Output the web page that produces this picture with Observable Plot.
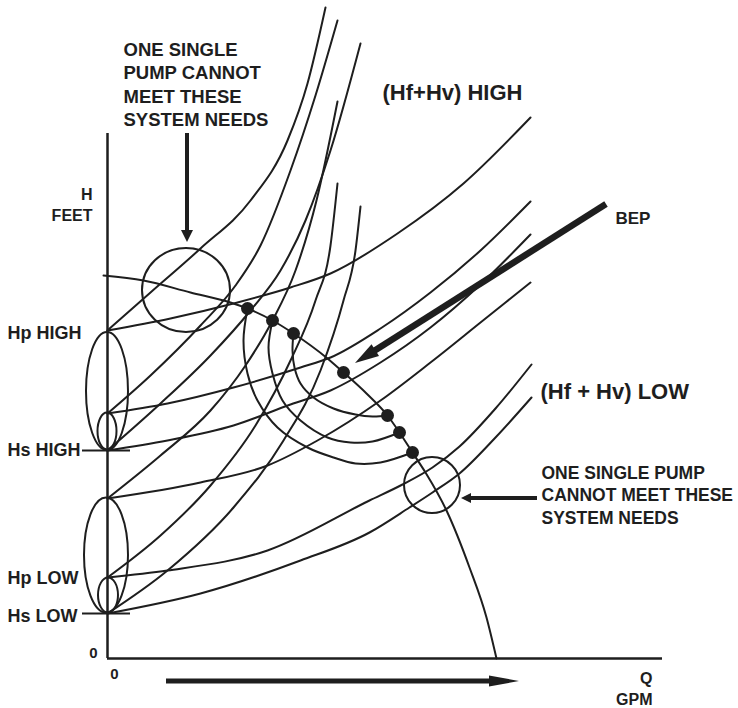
<!DOCTYPE html>
<html><head><meta charset="utf-8">
<script src="https://cdn.jsdelivr.net/npm/d3@7"></script>
<script src="https://cdn.jsdelivr.net/npm/@observablehq/plot@0.6"></script>
<style>
html,body{margin:0;padding:0;background:#fff;}
#chart svg{display:block;}
</style></head><body><div id="chart"></div>
<script>
// Q (flow) and H (head) in arbitrary units, origin at the axes' corner.
const staticTickHeads = [208, 45];

const pumpCurve = [[-4,383],[36,378],[83,366],[123,356],[140,350],[165,338],[186,325],[220,300],[236,286],[259,265],[280,243],[292,226],[305,206],[318,186],[339,148],[362,91],[379,41],[389,0]];
const operatingPoints = [[140,350],[165,338],[186,325],[236,286],[280,243],[292,226],[305,206]];

const arcOuter  = [[140,350],[136,318],[140,285],[150,258],[170,231],[200,211],[226,201],[248,195],[273,196],[305,206]];
const arcMiddle = [[165,338],[161,311],[165,285],[175,258],[193,238],[220,221],[243,216],[265,217],[292,226]];
const arcInner  = [[186,325],[185,308],[187,291],[193,275],[206,261],[226,250],[248,244],[265,242],[280,243]];

const sysFlat1 = [[0,328],[63,340],[126,355],[183,371],[223,385],[290,425],[356,475],[423,541]];
const sysFlat2 = [[0,245],[60,255],[126,271],[193,291],[223,301],[273,330],[323,366],[373,408],[423,457]];
const sysFlat3 = [[0,208],[60,218],[126,233],[183,254],[223,268],[273,296],[323,331],[373,374],[423,424]];
const sysFlat4 = [[0,160],[93,176],[160,193],[210,218],[273,258],[323,296],[373,336],[423,376]];
const sysFlat5 = [[0,81],[60,88],[160,108],[262,158],[295,174],[325,191],[352,212],[388,250],[424,294]];
const sysFlat6 = [[0,45],[93,65],[193,98],[262,126],[302,151],[325,166],[352,185],[388,221],[424,261]];

const sysSteep1 = [[0,328],[43,366],[93,410],[143,458],[180,518],[200,575],[218,651]];
const sysSteep2 = [[0,245],[43,283],[93,333],[128,373],[153,413],[183,488],[208,563],[230,638]];
const sysSteep3 = [[0,208],[53,255],[103,303],[143,348],[173,388],[198,438],[223,508],[253,615]];
const sysSteep4 = [[0,160],[53,203],[103,248],[138,293],[165,338],[188,388],[209,458],[230,557]];
const sysSteep5 = [[0,81],[53,123],[103,173],[148,233],[183,298],[208,358],[223,413],[230,475]];
const sysSteep6 = [[0,45],[60,88],[126,151],[176,218],[213,288],[236,358],[248,408],[253,452]];

// ellipses: centre (q,h) and half-axes (rq,rh)
const rangeEllipses = [
  {q: 0, h: 267, rq: 21, rh: 59}, {q: 0, h: 227, rq: 9.5, rh: 18.5},
  {q: -1, h: 103, rq: 22, rh: 57.5}, {q: 1, h: 63, rq: 10, rh: 17.5}
];
const problemCircles = [{q: 79, h: 368, rq: 44, rh: 42}, {q: 325, h: 173, rq: 28, rh: 28}];

const arrows = [
  {id: "top", q1: 80, h1: 525, q2: 80, h2: 416},
  {id: "right", q1: 430, h1: 160, q2: 354, h2: 160},
  {id: "bep", q1: 499, h1: 454, q2: 248, h2: 295},
  {id: "flow", q1: 59, h1: -23, q2: 412, h2: -23}
];

const sideLabels = ["Hp HIGH", "Hs HIGH", "Hp LOW", "Hs LOW"];
const sideLabelH = [325, 208, 80, 42];
const noteTop = "ONE SINGLE\nPUMP CANNOT\nMEET THESE\nSYSTEM NEEDS";
const noteRight = "ONE SINGLE PUMP\nCANNOT MEET THESE\nSYSTEM NEEDS";

const ink = "#1e1e1e";
const font = "'Liberation Sans', Arial, Helvetica, sans-serif";

const toRows = (list) => list.flatMap(([id, pts]) => pts.map(([q, h]) => ({id, q, h})));
const monotoneRows = toRows([
  ["pump", pumpCurve],
  ["f1", sysFlat1], ["f2", sysFlat2], ["f3", sysFlat3], ["f4", sysFlat4], ["f5", sysFlat5], ["f6", sysFlat6],
  ["s1", sysSteep1], ["s2", sysSteep2], ["s3", sysSteep3], ["s4", sysSteep4], ["s5", sysSteep5], ["s6", sysSteep6]
]);
const arcRows = toRows([["arcO", arcOuter], ["arcM", arcMiddle], ["arcI", arcInner]]);

const arrowStyle = {
  top: {w: 4, head: 12, wing: 6},
  right: {w: 4, head: 10, wing: 5},
  bep: {w: 6.5, head: 24, wing: 7},
  flow: {w: 5, head: 30, wing: 5.5}
};

function ellipseMark(list, sw) {
  return (index, scales) => {
    const g = d3.create("svg:g").attr("fill", "none").attr("stroke", ink).attr("stroke-width", sw);
    for (const e of list) {
      const cx = scales.x(e.q), cy = scales.y(e.h);
      g.append("ellipse").attr("cx", cx).attr("cy", cy)
        .attr("rx", Math.abs(scales.x(e.q + e.rq) - cx))
        .attr("ry", Math.abs(scales.y(e.h + e.rh) - cy));
    }
    return g.node();
  };
}

function arrowMark(list) {
  return (index, scales) => {
    const g = d3.create("svg:g");
    for (const a of list) {
      const s = arrowStyle[a.id];
      const x1 = scales.x(a.q1), y1 = scales.y(a.h1), x2 = scales.x(a.q2), y2 = scales.y(a.h2);
      const len = Math.hypot(x2 - x1, y2 - y1), ux = (x2 - x1) / len, uy = (y2 - y1) / len;
      const bx = x2 - ux * s.head, by = y2 - uy * s.head;
      g.append("line").attr("x1", x1).attr("y1", y1).attr("x2", bx + ux * 2).attr("y2", by + uy * 2)
        .attr("stroke", ink).attr("stroke-width", s.w);
      g.append("path")
        .attr("d", `M${x2},${y2}L${bx - uy * s.wing},${by + ux * s.wing}L${bx + uy * s.wing},${by - ux * s.wing}Z`)
        .attr("fill", ink);
    }
    return g.node();
  };
}

const bold = {fontWeight: "bold", fill: ink, fontFamily: font};

const chart = Plot.plot({
  width: 738,
  height: 708,
  margin: 0,
  x: {domain: [0, 555], range: [107, 662], axis: null},
  y: {domain: [0, 658], range: [658, 0], axis: null},
  style: {background: "#fff", fontFamily: font},
  marks: [
    Plot.line(monotoneRows, {x: "q", y: "h", z: "id", curve: "monotone-x", stroke: ink, strokeWidth: 2}),
    Plot.line(arcRows, {x: "q", y: "h", z: "id", curve: "catmull-rom", stroke: ink, strokeWidth: 2}),
    ellipseMark(rangeEllipses, 2),
    ellipseMark(problemCircles, 2),
    Plot.ruleX([0], {y1: 0, y2: 525, stroke: ink, strokeWidth: 2.5}),
    Plot.ruleY([0], {x1: 0, x2: 555, stroke: ink, strokeWidth: 2.5}),
    Plot.ruleY(staticTickHeads, {x1: -25, x2: 23, stroke: ink, strokeWidth: 2.2}),
    Plot.dot(operatingPoints, {x: d => d[0], y: d => d[1], r: 6.5, fill: ink}),
    arrowMark(arrows),
    Plot.text(sideLabels, {x: -100, y: (d, i) => sideLabelH[i], text: d => d, textAnchor: "start", fontSize: 18, ...bold}),
    Plot.text(["H", "FEET"], {x: -15, y: [464, 443], text: d => d, textAnchor: "end", fontSize: 16, ...bold}),
    Plot.text(["0"], {x: -10, y: 5, text: d => d, textAnchor: "end", fontSize: 15, ...bold}),
    Plot.text(["0"], {x: 7, y: -16, text: d => d, fontSize: 15, ...bold}),
    Plot.text(["Q", "GPM"], {x: 545, y: [-20, -41], text: d => d, textAnchor: "end", fontSize: 16, ...bold}),
    Plot.text([noteTop], {x: 16, y: 575, text: d => d, textAnchor: "start", lineHeight: 1.267, fontSize: 18.5, ...bold}),
    Plot.text([noteRight], {x: 434, y: 164.5, text: d => d, textAnchor: "start", lineHeight: 1.3, fontSize: 17.5, ...bold}),
    Plot.text(["(Hf+Hv) HIGH"], {x: 275, y: 565.5, text: d => d, textAnchor: "start", fontSize: 22, ...bold}),
    Plot.text(["(Hf + Hv) LOW"], {x: 433, y: 267, text: d => d, textAnchor: "start", fontSize: 22, ...bold}),
    Plot.text(["BEP"], {x: 508, y: 440, text: d => d, textAnchor: "start", fontSize: 17, ...bold})
  ]
});
document.getElementById("chart").appendChild(chart);
</script></body></html>
